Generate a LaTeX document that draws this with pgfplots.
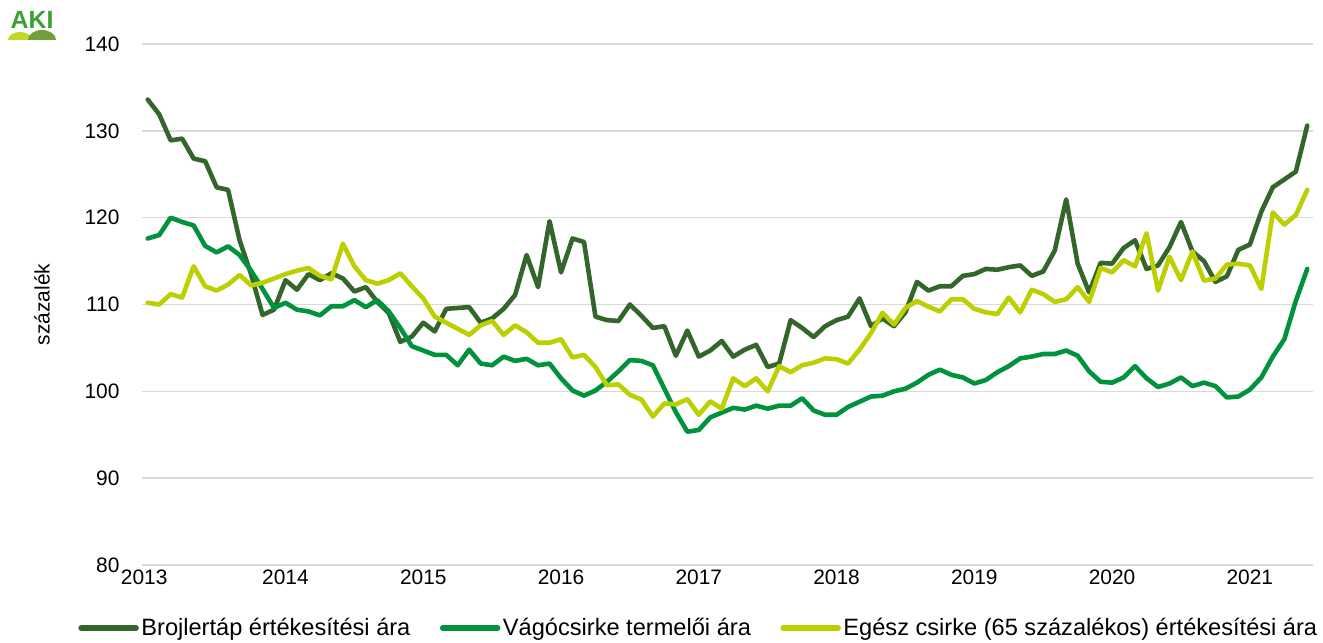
\documentclass[border=0pt]{standalone}
\usepackage{pgfplots}
\pgfplotsset{compat=1.18}
\usepackage{pgfplotstable}
\usepackage{fontspec}
\setmainfont{Liberation Sans}
\definecolor{cbroj}{RGB}{52,102,44}
\definecolor{cvago}{RGB}{0,146,60}
\definecolor{cegesz}{RGB}{188,207,0}
\definecolor{cgrid}{RGB}{217,217,217}
\definecolor{akigreen}{RGB}{58,160,48}
\definecolor{akilime}{RGB}{196,214,40}
\definecolor{akiolive}{RGB}{112,160,60}

\pgfplotstableread{
i broj vago egesz
0 133.6 117.6 110.2
1 131.9 118.0 110.0
2 128.9 120.0 111.2
3 129.1 119.5 110.8
4 126.8 119.1 114.4
5 126.5 116.75 112.1
6 123.5 116.0 111.6
7 123.2 116.7 112.3
8 117.4 115.7 113.4
9 113.5 113.9 112.2
10 108.8 111.8 112.5
11 109.4 109.6 113.0
12 112.8 110.2 113.5
13 111.7 109.4 113.9
14 113.5 109.2 114.2
15 112.8 108.75 113.3
16 113.6 109.8 112.9
17 113.0 109.8 117.0
18 111.5 110.5 114.4
19 112.0 109.7 112.8
20 110.3 110.5 112.4
21 109.0 109.2 112.8
22 105.7 107.3 113.6
23 106.3 105.2 112.1
24 107.9 104.7 110.7
25 106.9 104.2 108.6
26 109.5 104.2 107.9
27 109.6 103.0 107.2
28 109.7 104.8 106.5
29 107.9 103.2 107.6
30 108.4 103.0 108.1
31 109.5 104.0 106.5
32 111.1 103.5 107.6
33 115.7 103.75 106.8
34 112.0 103.0 105.6
35 119.6 103.2 105.6
36 113.7 101.5 106.0
37 117.6 100.1 103.9
38 117.2 99.5 104.2
39 108.6 100.1 102.8
40 108.2 101.1 100.7
41 108.1 102.3 100.8
42 110.0 103.6 99.6
43 108.7 103.5 99.05
44 107.3 103.0 97.1
45 107.5 100.3 98.6
46 104.1 97.6 98.5
47 107.0 95.35 99.1
48 104.0 95.55 97.3
49 104.7 97.0 98.85
50 105.8 97.55 98.0
51 104.0 98.1 101.5
52 104.8 97.9 100.6
53 105.35 98.35 101.5
54 102.8 98.0 100.0
55 103.2 98.35 102.9
56 108.2 98.35 102.2
57 107.3 99.2 103.0
58 106.25 97.8 103.3
59 107.5 97.3 103.8
60 108.2 97.3 103.7
61 108.6 98.2 103.2
62 110.7 98.8 104.8
63 107.5 99.4 106.7
64 108.4 99.5 109.05
65 107.5 100.0 107.7
66 109.1 100.3 109.6
67 112.6 101.0 110.4
68 111.6 101.9 109.75
69 112.1 102.5 109.2
70 112.1 101.9 110.6
71 113.3 101.6 110.6
72 113.5 100.9 109.5
73 114.1 101.3 109.1
74 114.0 102.2 108.9
75 114.3 102.9 110.8
76 114.5 103.8 109.1
77 113.3 104.0 111.7
78 113.8 104.3 111.2
79 116.2 104.3 110.3
80 122.1 104.7 110.6
81 114.7 104.1 112.0
82 111.4 102.3 110.3
83 114.8 101.1 114.2
84 114.7 101.0 113.7
85 116.5 101.6 115.1
86 117.4 102.9 114.4
87 114.1 101.5 118.2
88 114.5 100.5 111.6
89 116.6 100.9 115.5
90 119.5 101.6 112.8
91 116.1 100.6 116.1
92 115.0 101.0 112.75
93 112.6 100.6 113.0
94 113.25 99.3 114.6
95 116.3 99.4 114.7
96 116.9 100.2 114.5
97 120.7 101.6 111.8
98 123.5 104.0 120.6
99 124.4 106.0 119.2
100 125.3 110.4 120.3
101 130.6 114.1 123.2
}\datatable

\begin{document}
\begin{tikzpicture}
\useasboundingbox (-142bp,-78bp) rectangle (1181bp,565bp);
% logo
\fill[akilime] (-134bp,525bp) arc[start angle=180,end angle=0,x radius=12bp,y radius=8bp] -- cycle;
\fill[akiolive] (-114bp,525bp) arc[start angle=180,end angle=0,x radius=14bp,y radius=10bp] -- cycle;
\node[font=\bfseries\fontsize{25}{25}\selectfont, text=akigreen, inner sep=0pt] at (-110bp,545bp) {AKI};
\begin{axis}[
  at={(0,0)}, anchor=south west,
  scale only axis,
  width=1171bp, height=521bp,
  xmin=-0.5, xmax=101.5,
  ymin=80, ymax=140,
  ytick={80,90,100,110,120,130,140},
  xtick={0,12,24,36,48,60,72,84,96},
  xticklabels={\hspace*{-7bp}2013,2014,2015,2016,2017,2018,2019,2020,2021},
  /pgf/number format/assume math mode=true,
  tick style={draw=none},
  axis line style={draw=none},
  ymajorgrids,
  grid style={cgrid, line width=1.6bp},
  tick label style={font=\fontsize{21}{24}\selectfont, text=black},
  yticklabel style={xshift=-19bp},
  xticklabel style={yshift=-1bp},
  legend columns=3,
  legend style={at={(0.4757,-0.121)}, anchor=center, draw=none, fill=none,
    font=\fontsize{23.7}{27}\selectfont, inner sep=0pt,
    nodes={inner xsep=2.5bp, inner ysep=1bp},
    /tikz/every even column/.append style={column sep=27bp}},
  legend image code/.code={\draw[#1, line width=5.5bp] (0bp,0bp) -- (55bp,0bp);},
  every axis plot/.append style={line width=4.6bp, line join=round, line cap=round},
]
\addplot[cbroj] table[x=i, y=broj] {\datatable};
\addlegendentry{Brojlertáp értékesítési ára}
\addplot[cvago] table[x=i, y=vago] {\datatable};
\addlegendentry{Vágócsirke termelői ára}
\addplot[cegesz] table[x=i, y=egesz] {\datatable};
\addlegendentry{Egész csirke (65 százalékos) értékesítési ára}
\end{axis}
\node[rotate=90, font=\fontsize{21}{24}\selectfont, inner sep=0pt] at (-100bp,260.5bp) {százalék};
\end{tikzpicture}
\end{document}
